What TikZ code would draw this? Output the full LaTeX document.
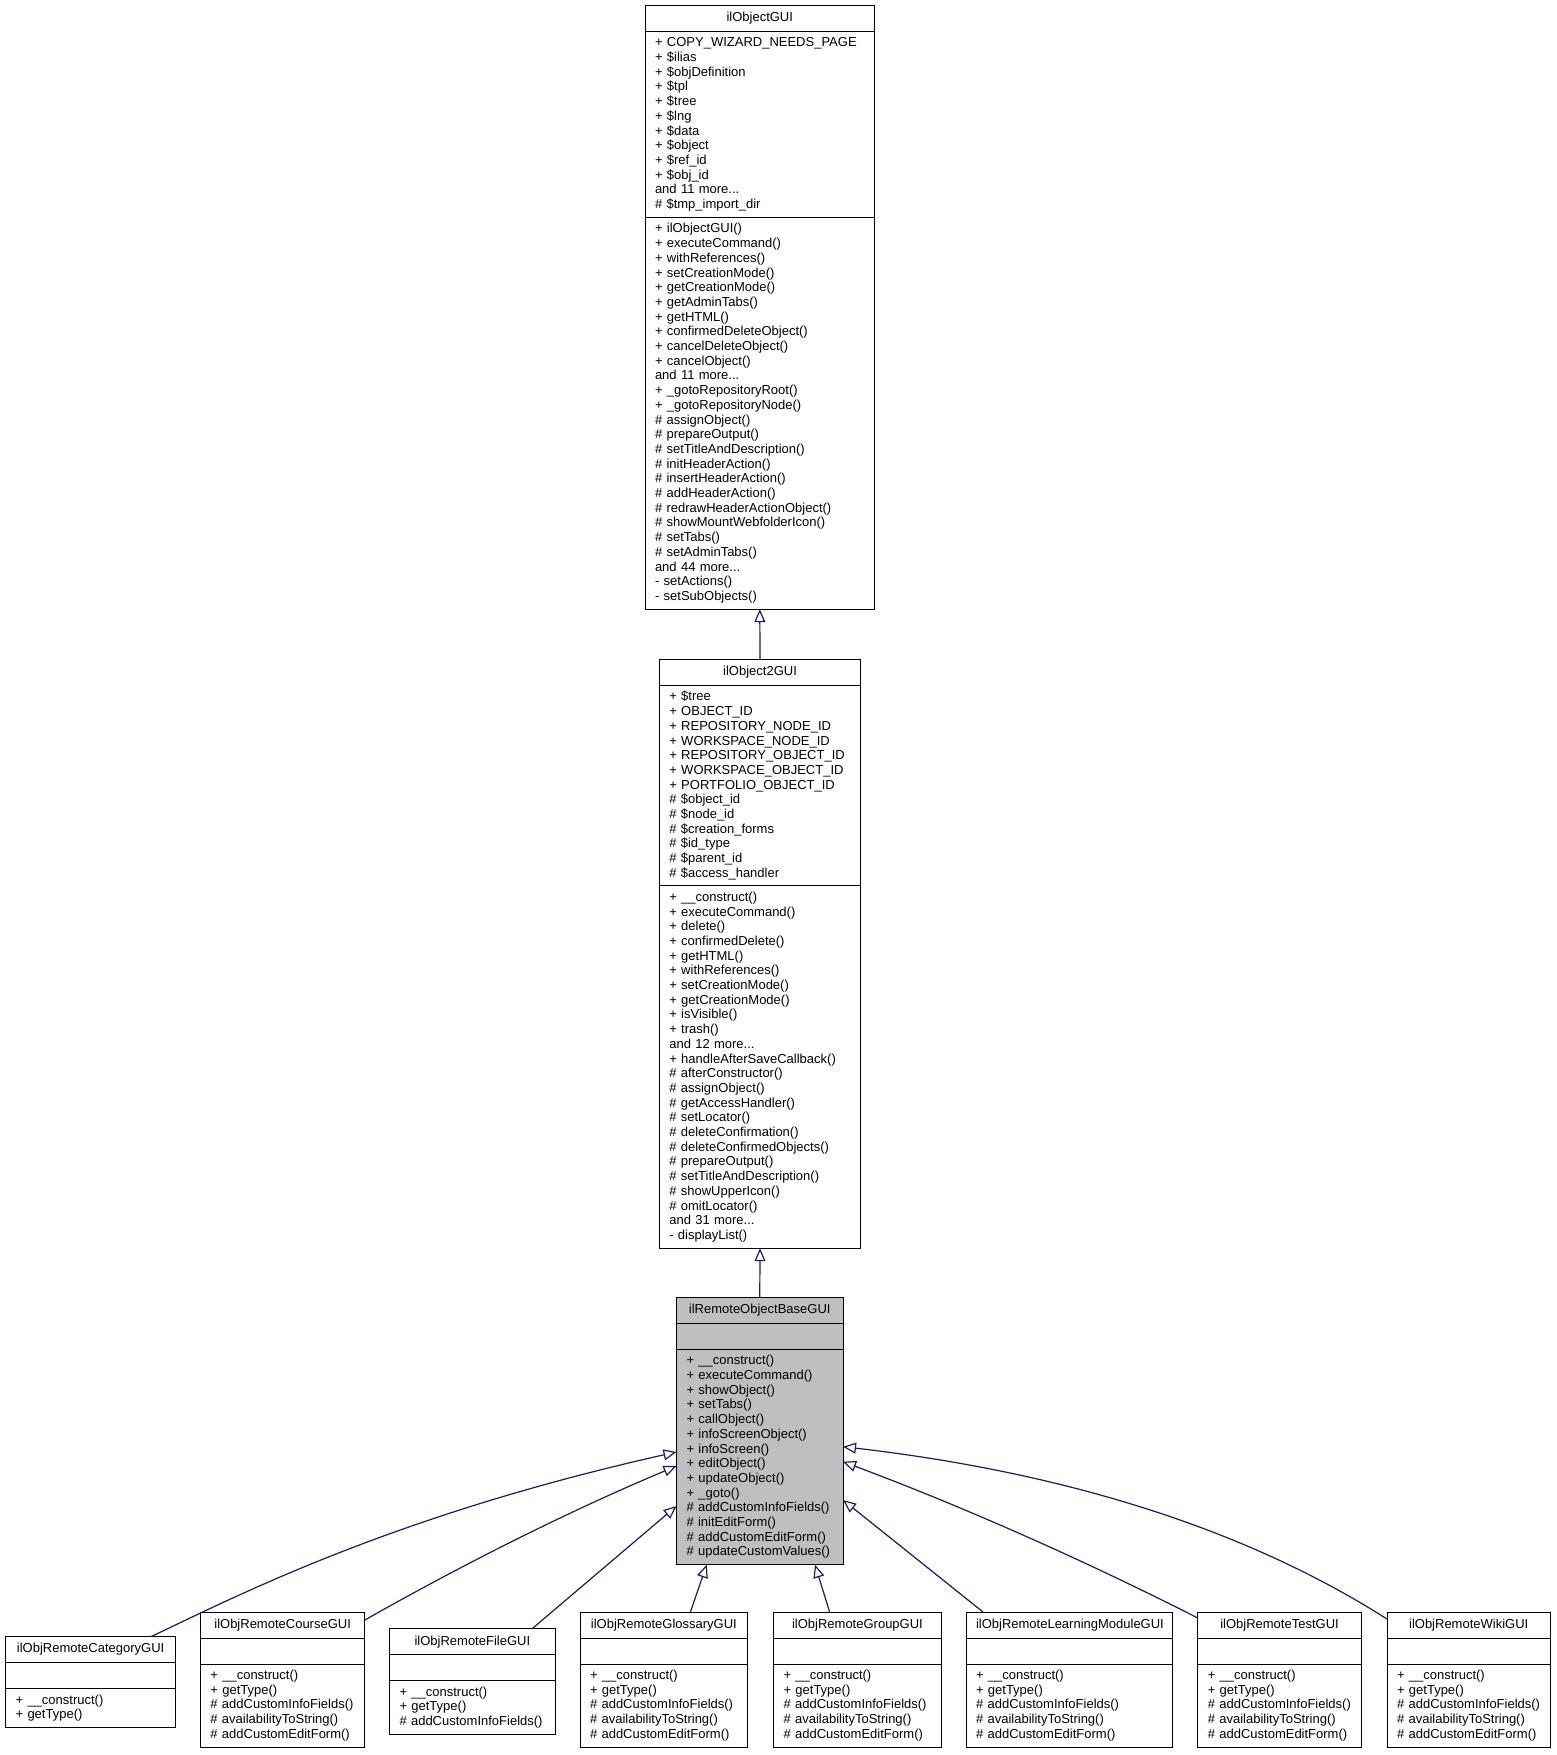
\documentclass[tikz,border=0pt]{standalone}
\usepackage{fontspec}
\setmainfont{Liberation Sans}
\usetikzlibrary{positioning,arrows.meta}
\definecolor{EdgeNavy}{HTML}{191970}
\definecolor{BaseGray}{HTML}{BFBFBF}

\begin{document}
\begin{tikzpicture}[x=1pt, y=-1pt,
    part/.style={draw=black, line width=1pt, fill=white, inner ysep=0pt, outer sep=0pt,
                 font=\fontsize{13pt}{14.7pt}\selectfont},
    ttl/.style={part, align=center, minimum height=26pt},
    emp/.style={part, minimum height=26pt},
    lst/.style={part, align=left, minimum height=#1},
    gray/.style={fill=BaseGray},
    inh/.style={draw=EdgeNavy, line width=1.2pt, -{Triangle[length=13pt, width=11pt, fill=white]}},
  ]
    \useasboundingbox (0,0) rectangle (1557,1755);

    % ilObjectGUI
    \node[ttl, anchor=north west, text width=209.5pt, inner xsep=10pt] (ogt) at (645,5.6) {ilObjectGUI};
    \node[lst=185.9pt, below=0pt of ogt, text width=209.5pt, inner xsep=10pt] (oga) {%
      + COPY\_WIZARD\_NEEDS\_PAGE\\ + \$ilias\\ + \$objDefinition\\ + \$tpl\\ + \$tree\\ + \$lng\\
      + \$data\\ + \$object\\ + \$ref\_id\\ + \$obj\_id\\ and 11 more...\\ \# \$tmp\_import\_dir};
    \node[lst=391.7pt, below=0pt of oga, text width=209.5pt, inner xsep=10pt] (ogm) {%
      + ilObjectGUI()\\ + executeCommand()\\ + withReferences()\\ + setCreationMode()\\
      + getCreationMode()\\ + getAdminTabs()\\ + getHTML()\\ + confirmedDeleteObject()\\
      + cancelDeleteObject()\\ + cancelObject()\\ and 11 more...\\ + \_gotoRepositoryRoot()\\
      + \_gotoRepositoryNode()\\ \# assignObject()\\ \# prepareOutput()\\ \# setTitleAndDescription()\\
      \# initHeaderAction()\\ \# insertHeaderAction()\\ \# addHeaderAction()\\
      \# redrawHeaderActionObject()\\ \# showMountWebfolderIcon()\\ \# setTabs()\\
      \# setAdminTabs()\\ and 44 more...\\ - setActions()\\ - setSubObjects()};

    % ilObject2GUI
    \node[ttl, anchor=north west, text width=181.5pt, inner xsep=10pt] (o2t) at (659.3,659.3) {ilObject2GUI};
    \node[lst=200.6pt, below=0pt of o2t, text width=181.5pt, inner xsep=10pt] (o2a) {%
      + \$tree\\ + OBJECT\_ID\\ + REPOSITORY\_NODE\_ID\\ + WORKSPACE\_NODE\_ID\\
      + REPOSITORY\_OBJECT\_ID\\ + WORKSPACE\_OBJECT\_ID\\ + PORTFOLIO\_OBJECT\_ID\\
      \# \$object\_id\\ \# \$node\_id\\ \# \$creation\_forms\\ \# \$id\_type\\ \# \$parent\_id\\
      \# \$access\_handler};
    \node[lst=362.3pt, below=0pt of o2a, text width=181.5pt, inner xsep=10pt] (o2m) {%
      + \_\_construct()\\ + executeCommand()\\ + delete()\\ + confirmedDelete()\\ + getHTML()\\
      + withReferences()\\ + setCreationMode()\\ + getCreationMode()\\ + isVisible()\\ + trash()\\
      and 12 more...\\ + handleAfterSaveCallback()\\ \# afterConstructor()\\ \# assignObject()\\
      \# getAccessHandler()\\ \# setLocator()\\ \# deleteConfirmation()\\ \# deleteConfirmedObjects()\\
      \# prepareOutput()\\ \# setTitleAndDescription()\\ \# showUpperIcon()\\ \# omitLocator()\\
      and 31 more...\\ - displayList()};

    % ilRemoteObjectBaseGUI
    \node[ttl, gray, anchor=north west, text width=146.5pt, inner xsep=10pt] (rbt) at (676.5,1297.4) {ilRemoteObjectBaseGUI};
    \node[emp, gray, below=0pt of rbt, text width=146.5pt, inner xsep=10pt] (rbe) {};
    \node[lst=215.3pt, gray, below=0pt of rbe, text width=146.5pt, inner xsep=10pt] (rbm) {%
      + \_\_construct()\\ + executeCommand()\\ + showObject()\\ + setTabs()\\ + callObject()\\
      + infoScreenObject()\\ + infoScreen()\\ + editObject()\\ + updateObject()\\ + \_goto()\\
      \# addCustomInfoFields()\\ \# initEditForm()\\ \# addCustomEditForm()\\ \# updateCustomValues()};

    % Unterklassen
    \node[ttl, anchor=north west, text width=150.1pt, inner xsep=10pt] (catt) at (5.6,1636.6) {ilObjRemoteCategoryGUI};
    \node[emp, below=0pt of catt, text width=150.1pt, inner xsep=10pt] (cate) {};
    \node[lst=38.9pt, below=0pt of cate, text width=150.1pt, inner xsep=10pt] (catm) {%
      + \_\_construct()\\ + getType()};

    \node[ttl, anchor=north west, text width=144.5pt, inner xsep=10pt] (cout) at (200.4,1612) {ilObjRemoteCourseGUI};
    \node[emp, below=0pt of cout, text width=144.5pt, inner xsep=10pt] (coue) {};
    \node[lst=83pt, below=0pt of coue, text width=144.5pt, inner xsep=10pt] (coum) {%
      + \_\_construct()\\ + getType()\\ \# addCustomInfoFields()\\ \# availabilityToString()\\
      \# addCustomEditForm()};

    \node[ttl, anchor=north west, text width=145.7pt, inner xsep=10pt] (filt) at (389.5,1628.8) {ilObjRemoteFileGUI};
    \node[emp, below=0pt of filt, text width=145.7pt, inner xsep=10pt] (file) {};
    \node[lst=53.6pt, below=0pt of file, text width=145.7pt, inner xsep=10pt] (film) {%
      + \_\_construct()\\ + getType()\\ \# addCustomInfoFields()};

    \node[ttl, anchor=north west, text width=147.8pt, inner xsep=10pt] (glot) at (580,1612) {ilObjRemoteGlossaryGUI};
    \node[emp, below=0pt of glot, text width=147.8pt, inner xsep=10pt] (gloe) {};
    \node[lst=83pt, below=0pt of gloe, text width=147.8pt, inner xsep=10pt] (glom) {%
      + \_\_construct()\\ + getType()\\ \# addCustomInfoFields()\\ \# availabilityToString()\\
      \# addCustomEditForm()};

    \node[ttl, anchor=north west, text width=147.9pt, inner xsep=10pt] (grpt) at (773.5,1612) {ilObjRemoteGroupGUI};
    \node[emp, below=0pt of grpt, text width=147.9pt, inner xsep=10pt] (grpe) {};
    \node[lst=83pt, below=0pt of grpe, text width=147.9pt, inner xsep=10pt] (grpm) {%
      + \_\_construct()\\ + getType()\\ \# addCustomInfoFields()\\ \# availabilityToString()\\
      \# addCustomEditForm()};

    \node[ttl, anchor=north west, text width=186pt, inner xsep=10pt] (lmt) at (966,1612) {ilObjRemoteLearningModuleGUI};
    \node[emp, below=0pt of lmt, text width=186pt, inner xsep=10pt] (lme) {};
    \node[lst=83pt, below=0pt of lme, text width=186pt, inner xsep=10pt] (lmm) {%
      + \_\_construct()\\ + getType()\\ \# addCustomInfoFields()\\ \# availabilityToString()\\
      \# addCustomEditForm()};

    \node[ttl, anchor=north west, text width=143.4pt, inner xsep=10pt] (tstt) at (1197.8,1612) {ilObjRemoteTestGUI};
    \node[emp, below=0pt of tstt, text width=143.4pt, inner xsep=10pt] (tste) {};
    \node[lst=83pt, below=0pt of tste, text width=143.4pt, inner xsep=10pt] (tstm) {%
      + \_\_construct()\\ + getType()\\ \# addCustomInfoFields()\\ \# availabilityToString()\\
      \# addCustomEditForm()};

    \node[ttl, anchor=north west, text width=143.4pt, inner xsep=10pt] (wikt) at (1387,1612) {ilObjRemoteWikiGUI};
    \node[emp, below=0pt of wikt, text width=143.4pt, inner xsep=10pt] (wike) {};
    \node[lst=83pt, below=0pt of wike, text width=143.4pt, inner xsep=10pt] (wikm) {%
      + \_\_construct()\\ + getType()\\ \# addCustomInfoFields()\\ \# availabilityToString()\\
      \# addCustomEditForm()};

    % Vererbung
    \draw[inh] (o2t.north) -- (ogm.south);
    \draw[inh] (rbt.north) -- (o2m.south);

    \draw[inh] ([xshift=145.4pt]catt.north west) .. controls +(78.8,-36.9) and +(-289,64.6) .. ([yshift=-102.6pt]rbm.north west);
    \draw[inh] ([yshift=-8pt]cout.north east) .. controls +(103,-58.5) and +(-102.8,43.1) .. ([yshift=-116.6pt]rbm.north west);
    \draw[inh] ([xshift=142.5pt]filt.north west) -- ([yshift=-156.6pt]rbm.north west);
    \draw[inh] ([xshift=110.4pt]glot.north west) -- ([xshift=30.2pt]rbm.south west);
    \draw[inh] ([xshift=56.1pt]grpt.north west) -- ([xshift=138.5pt]rbm.south west);
    \draw[inh] ([xshift=17pt]lmt.north west) -- ([yshift=-150.6pt]rbm.north east);
    \draw[inh] ([yshift=-6pt]tstt.north west) .. controls +(-117,-59.5) and +(117,43.8) .. ([yshift=-112.3pt]rbm.north east);
    \draw[inh] ([yshift=-7pt]wikt.north west) .. controls +(-81.6,-51.8) and +(299.2,34.5) .. ([yshift=-97.3pt]rbm.north east);
  \end{tikzpicture}
\end{document}
